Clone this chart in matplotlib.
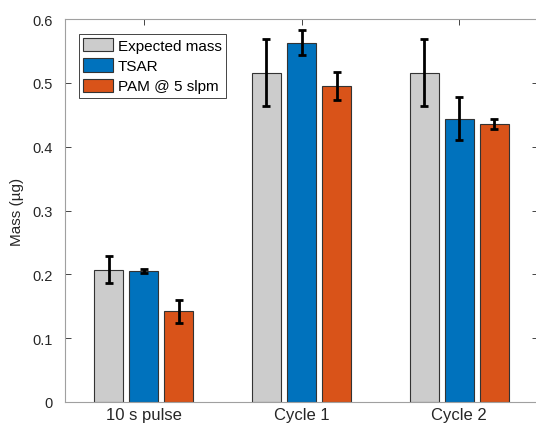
import numpy as np
import matplotlib
matplotlib.use("Agg")
import matplotlib.pyplot as plt

plt.rcParams["font.family"] = ["Liberation Sans", "DejaVu Sans"]

categories = ["10 s pulse", "Cycle 1", "Cycle 2"]
series_names = ["Expected mass", "TSAR", "PAM @ 5 slpm"]
series_colors = ["#CCCCCC", "#0072BD", "#D95319"]

expected = [0.207, 0.516, 0.516]
expected_err = [0.021, 0.053, 0.053]
tsar = [0.205, 0.563, 0.444]
tsar_err = [0.003, 0.020, 0.034]
pam = [0.142, 0.495, 0.435]
pam_err = [0.018, 0.022, 0.008]


def plot():
    fig = plt.figure(figsize=(5.36, 4.27), dpi=100)
    ax = fig.add_axes([65 / 536, 24 / 427, 473 / 536, 383 / 427])

    x = np.arange(1, len(categories) + 1)
    width = 0.184
    offsets = [-0.222, 0.0, 0.222]
    values = [expected, tsar, pam]
    errors = [expected_err, tsar_err, pam_err]

    for i in range(3):
        ax.bar(x + offsets[i], values[i], width, color=series_colors[i],
               edgecolor="#333333", linewidth=0.8, label=series_names[i], zorder=2)
        ax.errorbar(x + offsets[i], values[i], yerr=errors[i], fmt="none",
                    ecolor="black", elinewidth=2, capsize=2.6, capthick=2, zorder=3)

    ax.set_xlim(0.5, 3.5)
    ax.set_ylim(0, 0.6)
    ax.set_xticks(x)
    ax.set_xticklabels(categories)
    ax.set_yticks(np.arange(0, 0.61, 0.1))
    ax.set_yticklabels(["0", "0.1", "0.2", "0.3", "0.4", "0.5", "0.6"])
    ax.set_ylabel("Mass (\u00b5g)", fontsize=11, color="#262626", labelpad=6)

    ax.tick_params(direction="in", top=True, right=True, length=4.5,
                   colors="#262626", width=0.6)
    ax.tick_params(axis="x", labelsize=12, pad=3.5)
    ax.tick_params(axis="y", labelsize=10.5, pad=9)
    for s in ax.spines.values():
        s.set_color("#A0A0A0")
        s.set_linewidth(0.8)

    leg = ax.legend(loc="upper left", bbox_to_anchor=(0.029, 0.962), fontsize=11,
                    fancybox=False, framealpha=1, edgecolor="#262626",
                    handlelength=1.95, handleheight=0.95, handletextpad=0.3,
                    borderpad=0.3, labelspacing=0.35, borderaxespad=0)
    leg.get_frame().set_linewidth(0.6)
    return fig


def main():
    fig = plot()
    fig.savefig("out.png", dpi=100)


if __name__ == "__main__":
    main()
